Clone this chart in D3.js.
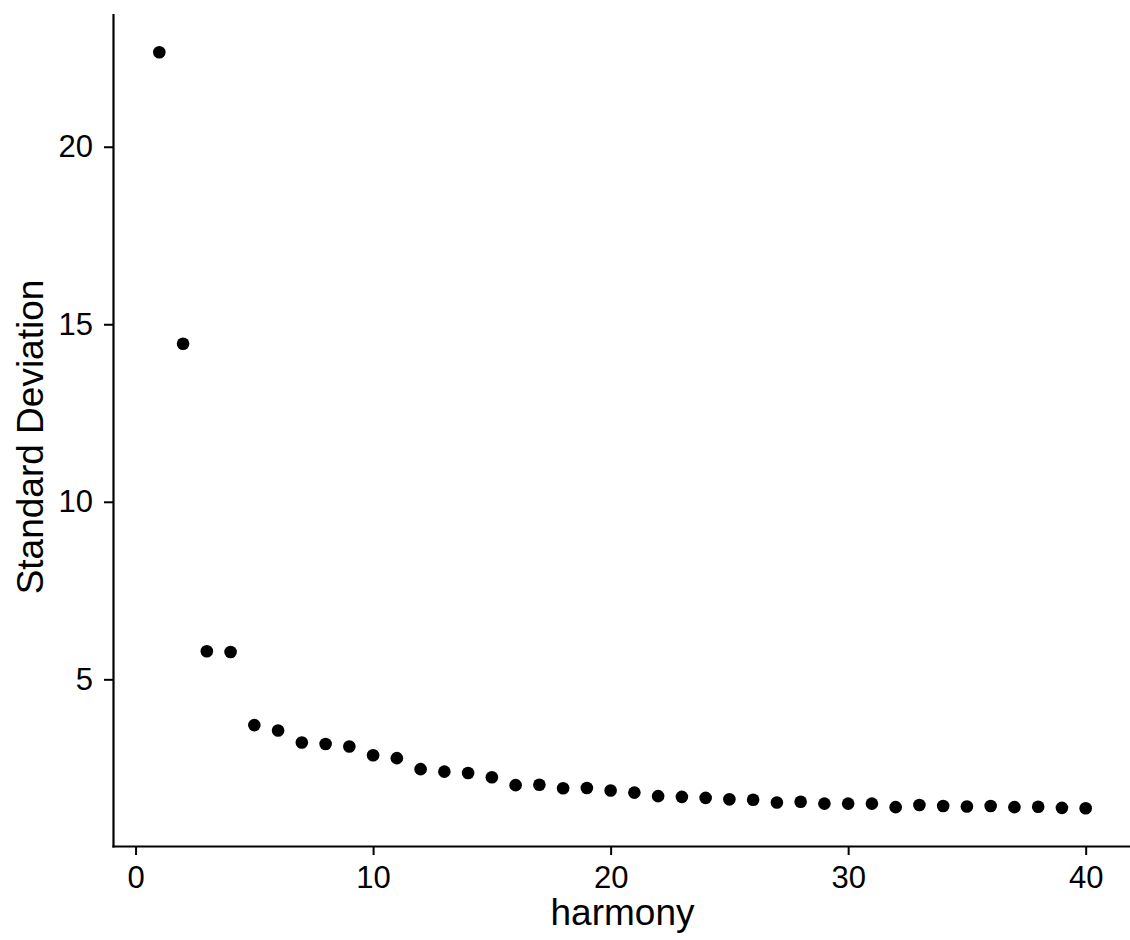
<!DOCTYPE html>
<html lang="en">

<head>
    <meta charset="UTF-8">
    <title>Standard Deviation by harmony</title>
    <script src="https://cdn.jsdelivr.net/npm/d3@7/dist/d3.min.js"></script>
    <style>
        body { margin: 0; background: #fff; }
        svg text { font-family: "Liberation Sans", Arial, sans-serif; fill: #000; }
    </style>
</head>

<body>
    <div class="content"></div>
    <script>
        // harmony component number and its standard deviation
        var harmony = [1, 2, 3, 4, 5, 6, 7, 8, 9, 10,
            11, 12, 13, 14, 15, 16, 17, 18, 19, 20,
            21, 22, 23, 24, 25, 26, 27, 28, 29, 30,
            31, 32, 33, 34, 35, 36, 37, 38, 39, 40]
        var stdev = [22.66, 14.45, 5.79, 5.77, 3.71, 3.56, 3.22, 3.18, 3.11, 2.86,
            2.78, 2.47, 2.40, 2.36, 2.24, 2.02, 2.03, 1.93, 1.94, 1.87,
            1.81, 1.71, 1.69, 1.66, 1.62, 1.61, 1.53, 1.55, 1.50, 1.50,
            1.50, 1.40, 1.46, 1.43, 1.42, 1.43, 1.40, 1.41, 1.38, 1.37]
        var xTicks = [0, 10, 20, 30, 40]
        var yTicks = [5, 10, 15, 20]
        var xTitle = "harmony"
        var yTitle = "Standard Deviation"

        var W = 1130, H = 940
        var padL = 113, padR = 1132, padT = 14.5, padB = 846

        var svg = d3.select('.content').append('svg')
            .attr('width', W).attr('height', H)
        svg.append("rect").attr("width", W).attr("height", H).attr("fill", "#fff")

        // ggplot-like 5% expansion of the data range
        var xr = d3.extent(harmony), yr = d3.extent(stdev)
        var xe = (xr[1] - xr[0]) * 0.05, ye = (yr[1] - yr[0]) * 0.05
        var x = d3.scaleLinear().domain([xr[0] - xe, xr[1] + xe]).range([padL, padR])
        var y = d3.scaleLinear().domain([yr[0] - ye, yr[1] + ye]).range([padB, padT])

        var xAxis = svg.append("g").attr("transform", "translate(0," + padB + ")")
            .call(d3.axisBottom(x).tickValues(xTicks).tickSizeInner(9).tickSizeOuter(0).tickPadding(11))
        var yAxis = svg.append("g").attr("transform", "translate(" + padL + ",0)")
            .call(d3.axisLeft(y).tickValues(yTicks).tickSizeInner(9).tickSizeOuter(0).tickPadding(11))

        ;[xAxis, yAxis].forEach(g => {
            g.selectAll("path.domain").attr("stroke", "#000").attr("stroke-width", 2.2).attr("stroke-linecap", "square")
            g.selectAll(".tick line").attr("stroke", "#000").attr("stroke-width", 2)
            g.selectAll(".tick text").attr("font-size", 31).attr("fill", "#000")
                .style("font-family", '"Liberation Sans", Arial, sans-serif')
        })

        svg.append("text").attr("x", (padL + padR) / 2).attr("y", 925)
            .attr("text-anchor", "middle").attr("font-size", 37).text(xTitle)
        svg.append("text").attr("transform", "translate(43," + 437 + ") rotate(-90)")
            .attr("text-anchor", "middle").attr("font-size", 37).text(yTitle)

        svg.append("g").selectAll("circle").data(harmony).join("circle")
            .attr("cx", d => x(d))
            .attr("cy", (d, i) => y(stdev[i]))
            .attr("r", 6.3)
            .attr("fill", "#000")
    </script>
</body>

</html>
